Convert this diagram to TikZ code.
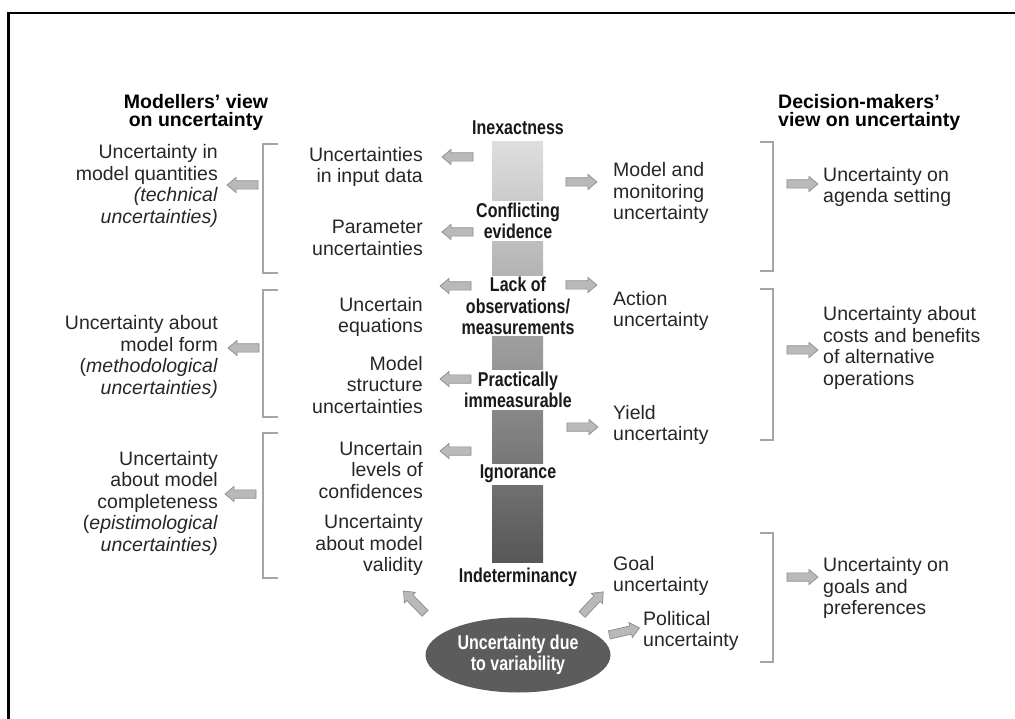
\documentclass[tikz,border=0pt]{standalone}
\usepackage{fontspec}
\setmainfont{Liberation Sans}
\newfontfamily\condfont{Liberation Sans}[FakeStretch=0.8]
\usetikzlibrary{shapes.arrows, shapes.geometric}

\definecolor{arrowfill}{HTML}{B9B9B9}
\definecolor{arrowline}{HTML}{8C8C8C}
\definecolor{bracketgray}{HTML}{A5A5A5}
\definecolor{barlight}{HTML}{DEDEDE}
\definecolor{bardark}{HTML}{575757}
\definecolor{ellgray}{HTML}{5C5C5C}

\tikzset{
    txt/.style = {font=\fontsize{19.5}{21.5}\selectfont, inner sep=0pt, text=black!85},
    lefttxt/.style = {txt, align=right, anchor=east},
    righttxt/.style = {txt, align=left, anchor=west},
    level/.style = {font=\condfont\bfseries\fontsize{20}{21.5}\selectfont, align=center, fill=white, inner sep=1.5pt, text=black!90},
    header/.style = {font=\bfseries\fontsize{19.5}{18}\selectfont, inner sep=0pt},
    blockarrow/.style = {single arrow, draw=arrowline, fill=arrowfill, line width=0.7pt, minimum height=31pt, minimum width=15pt, single arrow head extend=3.5pt, single arrow tip angle=80, inner xsep=0pt, inner ysep=3.8pt},
    bracket/.style = {draw=bracketgray, line width=1.3pt},
}

\begin{document}
\begin{tikzpicture}[x=1pt, y=-1pt]
%buffer
    \useasboundingbox (0,0) rectangle (1015,719);
%frame
    \draw[line width=2.8pt] (8.7,719) -- (8.7,13) -- (1015,13);
%headers
    \node[header, align=center] (hmod) at (196,112) {Modellers' view\\on uncertainty};
    \node[header, align=left, anchor=west] (hdec) at (778,112) {Decision-makers'\\view on uncertainty};
%bar
    \shade[top color=barlight, bottom color=bardark] (492,142) rectangle (543,562);
%levels
    \node[level] (inex) at (518,128) {Inexactness};
    \node[level] (conf) at (518,221) {Conflicting\\evidence};
    \node[level] (lack) at (518,306) {Lack of\\observations/\\measurements};
    \node[level] (prac) at (518,390) {Practically\\immeasurable};
    \node[level] (igno) at (518,474) {Ignorance};
    \node[level] (inde) at (518,577) {Indeterminancy};
    \node[ellipse, fill=ellgray, minimum width=185pt, minimum height=75pt, level, fill=ellgray, text=white] (vari) at (518,655) {Uncertainty due\\to variability};
%modellers
    \node[lefttxt] (m1) at (423,167) {Uncertainties\\in input data};
    \node[lefttxt] (m2) at (423,238) {Parameter\\uncertainties};
    \node[lefttxt] (m3) at (423,317) {Uncertain\\equations};
    \node[lefttxt] (m4) at (423,385) {Model\\structure\\uncertainties};
    \node[lefttxt] (m5) at (423,470) {Uncertain\\levels of\\confidences};
    \node[lefttxt] (m6) at (423,545) {Uncertainty\\about model\\validity};
    \node[lefttxt] (q1) at (218,186) {Uncertainty in\\model quantities\\\textit{(technical}\\\textit{uncertainties)}};
    \node[lefttxt] (q2) at (218,357) {Uncertainty about\\model form\\(\textit{methodological}\\\textit{uncertainties)}};
    \node[lefttxt] (q3) at (218,503) {Uncertainty\\about model\\completeness\\(\textit{epistimological}\\\textit{uncertainties)}};
%decision makers
    \node[righttxt] (d1) at (613,193) {Model and\\monitoring\\uncertainty};
    \node[righttxt] (d2) at (613,311) {Action\\uncertainty};
    \node[righttxt] (d3) at (613,425) {Yield\\uncertainty};
    \node[righttxt] (d4) at (613,576) {Goal\\uncertainty};
    \node[righttxt] (d5) at (643,631) {Political\\uncertainty};
    \node[righttxt] (r1) at (823,187) {Uncertainty on\\agenda setting};
    \node[righttxt] (r2) at (823,348) {Uncertainty about\\costs and benefits\\of alternative\\operations};
    \node[righttxt] (r3) at (823,588) {Uncertainty on\\goals and\\preferences};
%brackets
    \draw[bracket] (278,144) -- (263,144) -- (263,273) -- (278,273);
    \draw[bracket] (278,290) -- (263,290) -- (263,417) -- (278,417);
    \draw[bracket] (278,433) -- (263,433) -- (263,578) -- (278,578);
    \draw[bracket] (760,142) -- (773,142) -- (773,271) -- (760,271);
    \draw[bracket] (760,289) -- (773,289) -- (773,440) -- (760,440);
    \draw[bracket] (760,533) -- (773,533) -- (773,662) -- (760,662);
%arrows
    \node[blockarrow, rotate=180] (al1) at (460,157) {};
    \node[blockarrow, rotate=180] (al2) at (460,232) {};
    \node[blockarrow, rotate=180] (al3) at (458,286) {};
    \node[blockarrow, rotate=180] (al4) at (458,379) {};
    \node[blockarrow, rotate=180] (al5) at (458,451) {};
    \node[blockarrow] (ar1) at (579,182) {};
    \node[blockarrow] (ar2) at (579,285) {};
    \node[blockarrow] (ar3) at (580,427) {};
    \node[blockarrow, rotate=180] (ao1) at (245,185) {};
    \node[blockarrow, rotate=180] (ao2) at (246,348) {};
    \node[blockarrow, rotate=180] (ao3) at (243,494) {};
    \node[blockarrow] (ao4) at (800,184) {};
    \node[blockarrow] (ao5) at (800,350) {};
    \node[blockarrow] (ao6) at (800,577) {};
    \node[blockarrow, rotate=134] (av1) at (416,604) {};
    \node[blockarrow, rotate=47] (av2) at (591,605) {};
    \node[blockarrow, rotate=13] (av3) at (622,632) {};
\end{tikzpicture}
\end{document}
